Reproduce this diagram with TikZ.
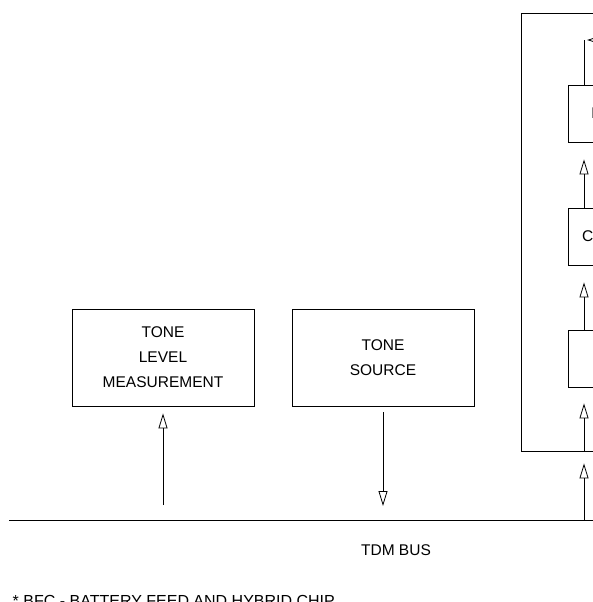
\documentclass[tikz,border=0pt]{standalone}
\usepackage{fontspec}
\setmainfont{Liberation Sans}
\usetikzlibrary{arrows.meta}

\begin{document}
\begin{tikzpicture}[x=1pt,y=-1pt,line width=0.8pt,
  every node/.style={font=\fontsize{15.5}{25}\selectfont},
  box/.style={draw,minimum width=182pt,minimum height=97pt,align=center,inner sep=0pt},
  blk/.style={draw,minimum width=84pt,minimum height=57pt,align=center,inner sep=0pt},
  sig/.style={-{Triangle[open,length=15pt,width=9pt]}}]
\useasboundingbox (0,0) rectangle (592,602);

\node[box] (meas) at (163,357.5) {TONE\\LEVEL\\MEASUREMENT};
\node[box] (src) at (383,357.5) {TONE\\SOURCE};

\node[draw,minimum width=180pt,minimum height=438pt,inner sep=0pt] (unit) at (611,232) {};
\node[blk] (bfc) at (610,113.5) {BFC*};
\node[blk] (codec) at (610,236.5) {CODEC};
\node[blk] (pcm) at (610,358.5) {PCM};

\coordinate (busL) at (9,520);
\coordinate (busR) at (600,520);
\coordinate (spine) at (584,0);
\coordinate (turn) at (584,40);
\coordinate (loopR) at (600,40);
\coordinate (measIn) at (163,505);

\draw (busL) -- (busR);
\node (buslbl) at (396,550) {TDM BUS};

\draw[sig,shorten >=7pt] (measIn) -- (meas.south);
\draw[sig,shorten <=6pt,shorten >=14pt] (src.south) -- (src.south |- busL);

\draw[sig,shorten >=12pt] (busR -| spine) -- (unit.south -| spine);
\draw[sig,shorten >=16pt] (unit.south -| spine) -- (pcm.south -| spine);
\draw[sig,shorten >=17pt] (pcm.north -| spine) -- (codec.south -| spine);
\draw[sig,shorten >=17pt] (codec.north -| spine) -- (bfc.south -| spine);
\draw (bfc.north -| spine) -- (turn);
\draw[sig,shorten >=3pt] (loopR) -- (turn);

\node[anchor=base west,font=\fontsize{16}{20}\selectfont] (note) at (9,606) {* BFC - BATTERY FEED AND HYBRID CHIP};
\end{tikzpicture}
\end{document}
